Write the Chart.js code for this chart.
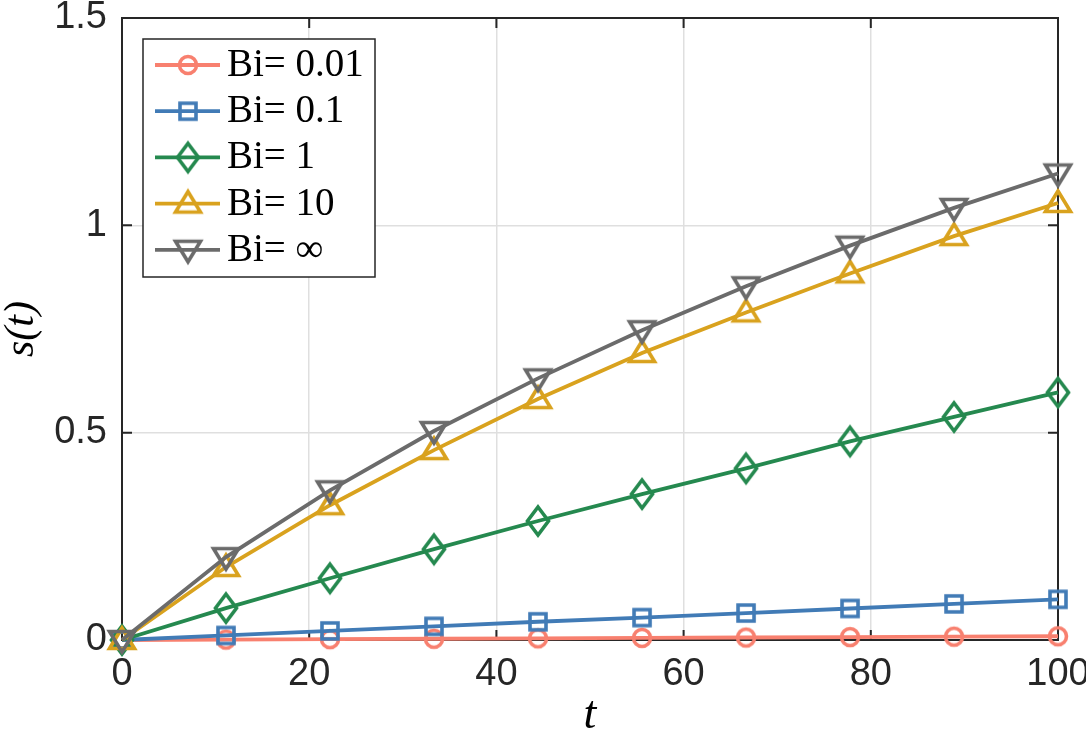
<!DOCTYPE html>
<html><head><meta charset="utf-8">
<script src="https://cdn.jsdelivr.net/npm/chart.js@4/dist/chart.umd.min.js"></script>
<style>html,body{margin:0;padding:0;background:#fff}#wrap{width:1086px;height:742px;position:relative}</style>
</head><body><div id="wrap"><canvas id="c"></canvas></div>
<script>
const tValues = [0, 11.11, 22.22, 33.33, 44.44, 55.56, 66.67, 77.78, 88.89, 100];
const seriesLabels = ['Bi= 0.01', 'Bi= 0.1', 'Bi= 1', 'Bi= 10', 'Bi= \u221E'];
const sBi001 = [0, 0.001, 0.002, 0.003, 0.004, 0.005, 0.006, 0.007, 0.008, 0.009];
const sBi01  = [0, 0.011, 0.022, 0.033, 0.044, 0.054, 0.065, 0.076, 0.087, 0.098];
const sBi1   = [0, 0.077, 0.149, 0.219, 0.287, 0.352, 0.414, 0.479, 0.538, 0.597];
const sBi10  = [0, 0.176, 0.325, 0.458, 0.581, 0.692, 0.790, 0.884, 0.974, 1.054];
const sBiInf = [0, 0.200, 0.361, 0.504, 0.631, 0.747, 0.853, 0.951, 1.042, 1.125];
const xTicks = [0, 20, 40, 60, 80, 100];
const yTicks = [0, 0.5, 1, 1.5];
const yTickLabels = ['0', '0.5', '1', '1.5'];

const seriesValues = [sBi001, sBi01, sBi1, sBi10, sBiInf];
const colors = ['#F8806F', '#417BB6', '#25894F', '#D9A21E', '#6B6B6B'];
const shapes = ['circle', 'square', 'diamond', 'triUp', 'triDown'];

function makeMarker(shape, color) {
  const s = 38, m = s / 2;
  const c = document.createElement('canvas');
  c.width = s; c.height = s;
  const g = c.getContext('2d');
  g.strokeStyle = color; g.lineWidth = 3.6; g.lineJoin = 'miter';
  g.beginPath();
  if (shape === 'circle') g.arc(m, m, 8.5, 0, Math.PI * 2);
  else if (shape === 'square') g.rect(m - 8, m - 8, 16, 16);
  else if (shape === 'diamond') { g.moveTo(m, m - 14); g.lineTo(m + 10.5, m); g.lineTo(m, m + 14); g.lineTo(m - 10.5, m); g.closePath(); }
  else if (shape === 'triUp') { g.moveTo(m, m - 12); g.lineTo(m + 12.5, m + 8.5); g.lineTo(m - 12.5, m + 8.5); g.closePath(); }
  else if (shape === 'triDown') { g.moveTo(m, m + 12); g.lineTo(m + 12.5, m - 8.5); g.lineTo(m - 12.5, m - 8.5); g.closePath(); }
  g.stroke();
  return c;
}

const datasets = seriesValues.map((vals, i) => ({
  label: seriesLabels[i],
  data: tValues.map((t, k) => ({ x: t, y: vals[k] })),
  borderColor: colors[i],
  backgroundColor: colors[i],
  borderWidth: 3.8,
  pointStyle: makeMarker(shapes[i], colors[i]),
  pointRadius: 10,
  pointHoverRadius: 10,
  tension: 0,
  clip: false,
  order: seriesValues.length - i
}));

const boxPlugin = {
  id: 'matlabBox',
  beforeDatasetsDraw(chart) {
    const { ctx, chartArea: a, scales: { x, y } } = chart;
    ctx.save();
    ctx.strokeStyle = '#262626';
    ctx.lineWidth = 2;
    ctx.strokeRect(a.left, a.top, a.right - a.left, a.bottom - a.top);
    const L = 10;
    ctx.beginPath();
    xTicks.forEach(v => {
      const px = x.getPixelForValue(v);
      ctx.moveTo(px, a.bottom); ctx.lineTo(px, a.bottom - L);
      ctx.moveTo(px, a.top); ctx.lineTo(px, a.top + L);
    });
    yTicks.forEach(v => {
      const py = y.getPixelForValue(v);
      ctx.moveTo(a.left, py); ctx.lineTo(a.left + L, py);
      ctx.moveTo(a.right, py); ctx.lineTo(a.right - L, py);
    });
    ctx.stroke();
    ctx.restore();
  }
};

const legendPlugin = {
  id: 'matlabLegend',
  afterDatasetsDraw(chart) {
    const { ctx, chartArea: a } = chart;
    const x0 = a.left + 21, y0 = a.top + 21, w = 232, h = 238;
    ctx.save();
    ctx.fillStyle = '#fff';
    ctx.fillRect(x0, y0, w, h);
    ctx.strokeStyle = '#262626';
    ctx.lineWidth = 1.5;
    ctx.strokeRect(x0, y0, w, h);
    chart.data.datasets.forEach((ds, i) => {
      const yy = y0 + 26 + i * 46.2;
      ctx.strokeStyle = ds.borderColor;
      ctx.lineWidth = ds.borderWidth;
      ctx.beginPath(); ctx.moveTo(x0 + 12, yy); ctx.lineTo(x0 + 77, yy); ctx.stroke();
      const img = ds.pointStyle;
      ctx.drawImage(img, x0 + 45 - img.width / 2, yy - img.height / 2);
      ctx.fillStyle = '#000';
      ctx.font = '39px "Liberation Serif"';
      ctx.textBaseline = 'alphabetic';
      ctx.textAlign = 'left';
      ctx.fillText(ds.label, x0 + 84, yy + 11);
    });
    ctx.restore();
  }
};

new Chart(document.getElementById('c'), {
  type: 'line',
  data: { datasets },
  options: {
    responsive: true,
    maintainAspectRatio: false,
    animation: false,
    events: [],
    layout: { padding: { left: 0, right: 28, top: 18, bottom: 0 } },
    plugins: { legend: { display: false }, tooltip: { enabled: false } },
    scales: {
      x: {
        type: 'linear', min: 0, max: 100,
        afterBuildTicks(s) { s.ticks = xTicks.map(v => ({ value: v })); },
        ticks: { font: { family: '"Liberation Sans"', size: 38 }, color: '#262626', padding: 12, maxRotation: 0, autoSkip: false },
        grid: { color: '#dfdfdf', lineWidth: 1.5, drawTicks: false },
        border: { display: false },
        title: { display: true, text: 't', color: '#000', font: { family: '"Liberation Serif"', style: 'italic', size: 46, lineHeight: 1.15 }, padding: { top: 0, bottom: 0 } },
        afterFit(s) { s.height = 102; s.paddingLeft = 0; s.paddingRight = 0; }
      },
      y: {
        type: 'linear', min: 0, max: 1.5,
        afterBuildTicks(s) { s.ticks = yTicks.map(v => ({ value: v })); },
        ticks: { font: { family: '"Liberation Sans"', size: 38 }, color: '#262626', padding: 15, autoSkip: false,
          callback: (v) => { const k = yTicks.indexOf(v); return k >= 0 ? yTickLabels[k] : ''; } },
        grid: { color: '#dfdfdf', lineWidth: 1.5, drawTicks: false },
        border: { display: false },
        title: { display: true, text: 's(t)', color: '#000', font: { family: '"Liberation Serif"', style: 'italic', size: 42, lineHeight: 1.0 }, padding: { top: 1, bottom: 0 } },
        afterFit(s) { s.width = 122; s.paddingTop = 0; s.paddingBottom = 0; }
      }
    }
  },
  plugins: [boxPlugin, legendPlugin]
});
</script>
</body></html>
